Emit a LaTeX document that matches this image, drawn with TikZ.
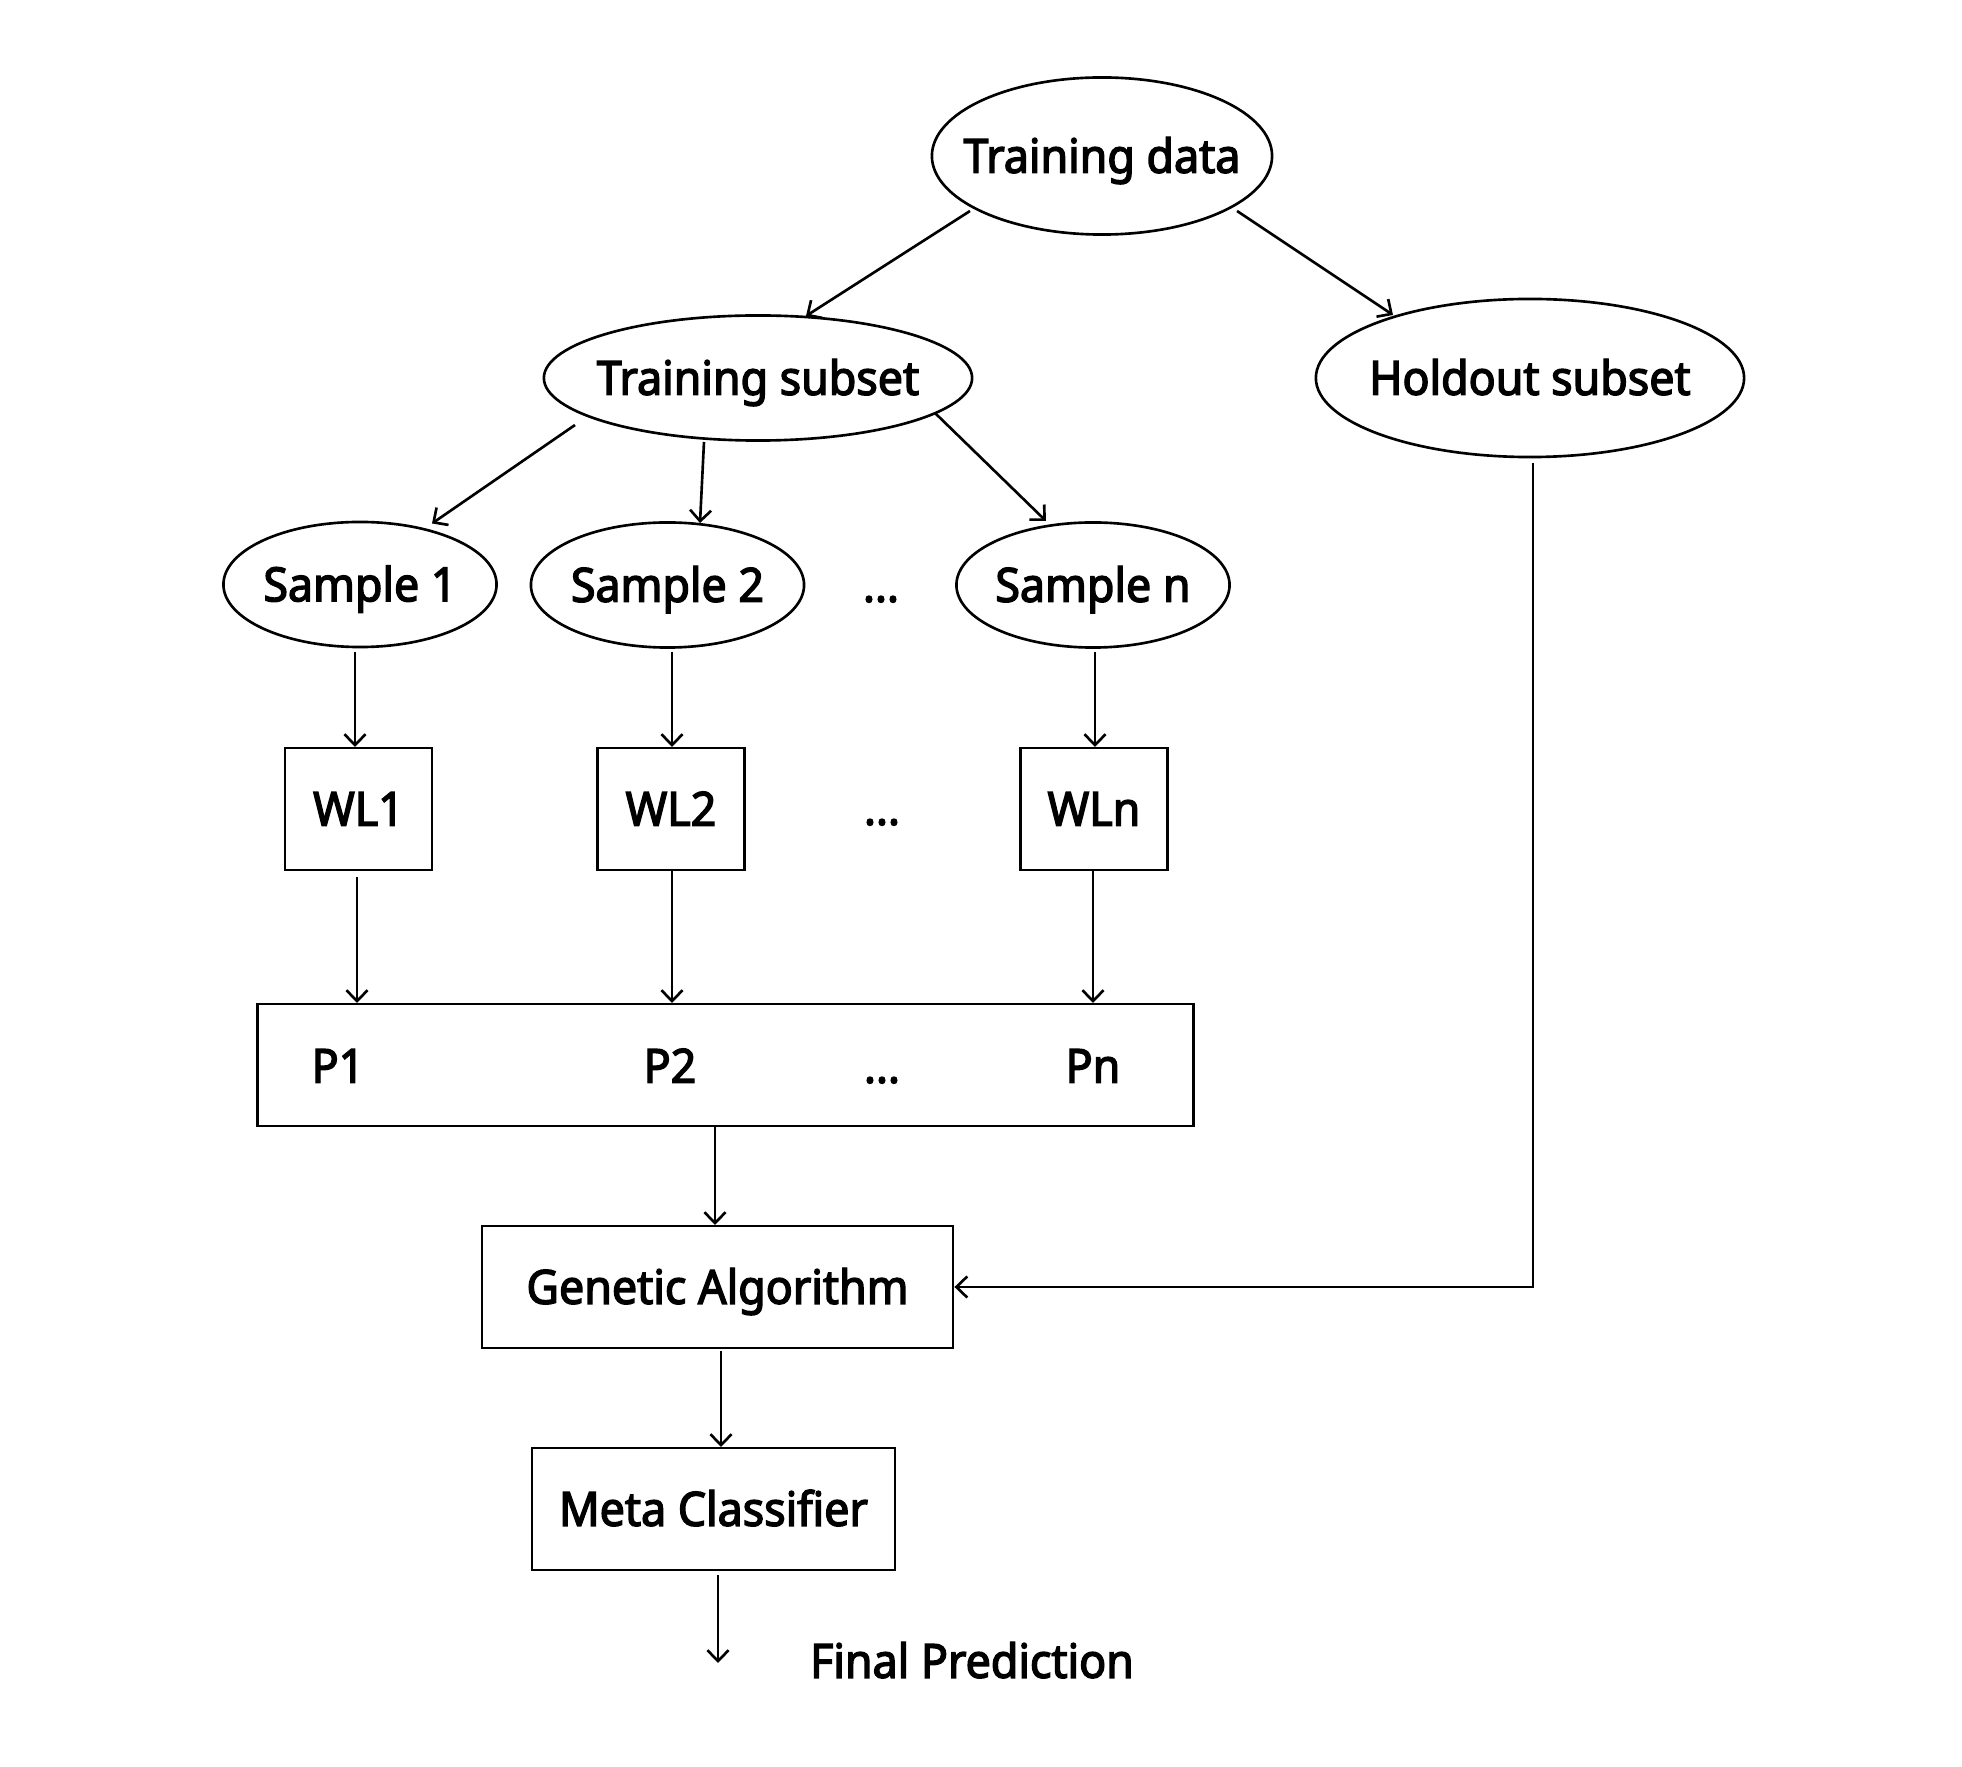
\documentclass[tikz,border=0pt]{standalone}
\usepackage{fontspec}
\setmainfont{Noto Sans}[FakeStretch=0.95,FakeBold=3]
\usetikzlibrary{shapes.geometric,arrows.meta}
\begin{document}
\begin{tikzpicture}[x=0.01cm,y=-0.01cm,
  line width=0.75pt,
  every node/.style={font=\fontsize{13.4pt}{16pt}\selectfont, text height=9.55pt, text depth=0pt},
  ell/.style={draw, ellipse, inner sep=0pt},
  sampleell/.style={ell, minimum width=2.73cm, minimum height=1.25cm},
  box/.style={draw, rectangle, inner sep=0pt},
  wlbox/.style={box, minimum width=1.47cm, minimum height=1.22cm},
  lbl/.style={inner sep=0pt},
  arr/.style={-{Straight Barb[length=3.1pt,width=6pt]}}
]
\fill[white] (0,0) rectangle (1962,1767);
\useasboundingbox (0,0) rectangle (1962,1767);

\node[ell, minimum width=3.40cm, minimum height=1.57cm, label={[lbl]center:Training data}] (td) at (1102,156) {};
\node[ell, minimum width=4.28cm, minimum height=1.25cm, label={[lbl]center:Training subset}] (ts) at (758,378) {};
\node[ell, minimum width=4.28cm, minimum height=1.58cm, label={[lbl]center:Holdout subset}] (ho) at (1530,378) {};

\node[sampleell, label={[lbl]center:Sample 1}] (s1) at (360,584.5) {};
\node[sampleell, label={[lbl]center:Sample 2}] (s2) at (667.5,585) {};
\node[sampleell, label={[lbl]center:Sample n}] (sn) at (1093,585) {};
\node[lbl] (d1) at (881,585) {...};

\node[wlbox] (wl1) at (358.5,809) {WL1};
\node[wlbox] (wl2) at (671,809) {WL2};
\node[wlbox] (wln) at (1094,809) {WLn};
\node[lbl] (d2) at (882,808) {...};

\node[box, minimum width=9.35cm, minimum height=1.22cm] (pb) at (725.5,1065) {};
\node[lbl] (p1) at (338,1066) {P1};
\node[lbl] (p2) at (670,1066) {P2};
\node[lbl] (d3) at (882,1066) {...};
\node[lbl] (pn) at (1093,1066) {Pn};

\node[box, minimum width=4.71cm, minimum height=1.22cm] (ga) at (717.5,1287) {Genetic Algorithm};
\node[box, minimum width=3.63cm, minimum height=1.22cm] (mc) at (713.5,1509) {Meta Classifier};
\node[lbl] (fp) at (972,1661) {Final Prediction};
\coordinate (fpend) at (718,1663);

\draw[arr] ([shift={(-132,55)}]td.center) -- ([shift={(48,-62)}]ts.center);
\draw[arr] ([shift={(135,55)}]td.center) -- ([shift={(-137,-63)}]ho.center);
\draw[arr] ([shift={(-183,47)}]ts.center) -- ([shift={(72,-61)}]s1.center);
\draw[arr] ([shift={(-54,64)}]ts.center) -- ([shift={(32.5,-62)}]s2.center);
\draw[arr] ([shift={(177,35)}]ts.center) -- ([shift={(-47,-64)}]sn.center);
\draw[arr] ([shift={(-5,68)}]s1.center) -- ([shift={(-3.5,-62)}]wl1.center);
\draw[arr] ([shift={(4.5,67)}]s2.center) -- ([shift={(1,-62)}]wl2.center);
\draw[arr] ([shift={(2,67)}]sn.center) -- ([shift={(1,-62)}]wln.center);
\draw[arr] ([shift={(-1.5,68)}]wl1.center) -- ([shift={(-368.5,-62)}]pb.center);
\draw[arr] ([shift={(1,61)}]wl2.center) -- ([shift={(-53.5,-62)}]pb.center);
\draw[arr] ([shift={(-1,61)}]wln.center) -- ([shift={(367.5,-62)}]pb.center);
\draw[arr] ([shift={(-10.5,61)}]pb.center) -- ([shift={(-2.5,-62)}]ga.center);
\draw[arr] ([shift={(3,85)}]ho.center) |- (ga.east);
\draw[arr] ([shift={(3.5,64)}]ga.center) -- ([shift={(7.5,-62)}]mc.center);
\draw[arr] ([shift={(4.5,66)}]mc.center) -- (fpend);
\end{tikzpicture}
\end{document}
